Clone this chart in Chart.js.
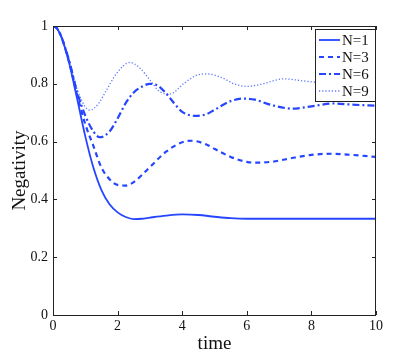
<!DOCTYPE html>
<html>
<head>
<meta charset="utf-8">
<script src="https://cdn.jsdelivr.net/npm/chart.js@4"></script>
<style>
  html, body { margin: 0; padding: 0; background: #fff; }
  #wrap { width: 415px; height: 355px; }
</style>
</head>
<body>
<div id="wrap"><canvas id="chart" width="415" height="355"></canvas></div>
<script>
// 곡선 데이터
const t1 = [0, 0.12, 0.25, 0.5, 0.75, 1, 1.25, 1.5, 1.75, 2, 2.25, 2.5, 2.75, 3, 3.5, 4, 4.5, 5, 5.5, 6, 7, 8, 9, 10];
const n1 = [1, 0.992, 0.965, 0.872, 0.747, 0.618, 0.51, 0.432, 0.383, 0.355, 0.339, 0.332, 0.333, 0.337, 0.344, 0.348, 0.346, 0.34, 0.335, 0.333, 0.333, 0.333, 0.333, 0.333];

const t3 = [0, 0.12, 0.25, 0.5, 0.75, 1, 1.25, 1.5, 1.75, 2, 2.25, 2.5, 3, 3.5, 4, 4.3, 4.75, 5, 5.5, 6, 6.25, 6.75, 7.5, 8, 8.6, 9.25, 10];
const n3 = [1, 0.992, 0.965, 0.875, 0.76, 0.66, 0.585, 0.51, 0.47, 0.45, 0.448, 0.46, 0.512, 0.565, 0.598, 0.603, 0.59, 0.575, 0.547, 0.53, 0.527, 0.53, 0.545, 0.554, 0.558, 0.554, 0.547];

const t6 = [0, 0.12, 0.25, 0.5, 0.75, 1, 1.25, 1.45, 1.75, 2, 2.25, 2.5, 2.75, 3, 3.25, 3.5, 3.75, 4, 4.4, 4.75, 5, 5.5, 5.9, 6.25, 6.75, 7.4, 8, 8.7, 9.25, 10];
const n6 = [1, 0.992, 0.965, 0.88, 0.77, 0.69, 0.635, 0.615, 0.635, 0.68, 0.733, 0.77, 0.79, 0.8, 0.793, 0.767, 0.733, 0.703, 0.689, 0.695, 0.71, 0.74, 0.749, 0.745, 0.727, 0.714, 0.722, 0.732, 0.728, 0.724];

const t9 = [0, 0.12, 0.25, 0.5, 0.75, 1, 1.14, 1.4, 1.66, 1.97, 2.38, 2.7, 3, 3.3, 3.63, 4.04, 4.46, 4.77, 5.25, 5.6, 6, 6.5, 7.13, 7.75, 8.5, 9.25, 10];
const n9 = [1, 0.992, 0.965, 0.88, 0.78, 0.72, 0.709, 0.73, 0.779, 0.836, 0.874, 0.853, 0.813, 0.773, 0.765, 0.8, 0.83, 0.834, 0.82, 0.8, 0.791, 0.8, 0.817, 0.81, 0.8, 0.79, 0.788];

const labels = ['N=1', 'N=3', 'N=6', 'N=9'];
const xTicks = [0, 2, 4, 6, 8, 10];
const yTicks = [0, 0.2, 0.4, 0.6, 0.8, 1];

const blue = '#2545ff';
const serif = '"Liberation Serif", "DejaVu Serif", serif';

function pts(xs, ys) {
  return xs.map((x, i) => ({ x: x, y: ys[i] }));
}

// 안쪽 눈금 + 테두리
const boxTicks = {
  id: 'boxTicks',
  afterDraw(chart) {
    const ctx = chart.ctx;
    const a = chart.chartArea;
    const xs = chart.scales.x, ys = chart.scales.y;
    ctx.save();
    ctx.strokeStyle = '#222';
    ctx.lineWidth = 1;
    ctx.strokeRect(a.left + 0.5, a.top + 0.5, a.right - a.left - 1, a.bottom - a.top);
    ctx.beginPath();
    xTicks.forEach(v => {
      const p = Math.round(xs.getPixelForValue(v)) + 0.5;
      ctx.moveTo(p, a.bottom); ctx.lineTo(p, a.bottom - 4);
      ctx.moveTo(p, a.top); ctx.lineTo(p, a.top + 4);
    });
    yTicks.forEach(v => {
      const p = Math.round(ys.getPixelForValue(v)) + 0.5;
      ctx.moveTo(a.left, p); ctx.lineTo(a.left + 4, p);
      ctx.moveTo(a.right, p); ctx.lineTo(a.right - 4, p);
    });
    ctx.stroke();
    ctx.restore();
  }
};

// 그래프 안 오른쪽 위 범례
const boxLegend = {
  id: 'boxLegend',
  afterDraw(chart) {
    const ctx = chart.ctx;
    const a = chart.chartArea;
    const w = 61, h = 73;
    const x0 = a.right - w, y0 = a.top + 3;
    ctx.save();
    ctx.fillStyle = '#fff';
    ctx.fillRect(x0, y0, w, h);
    ctx.strokeStyle = '#222';
    ctx.lineWidth = 1;
    ctx.strokeRect(x0 + 0.5, y0 + 0.5, w - 1, h - 1);
    ctx.font = '15px ' + serif;
    ctx.textBaseline = 'middle';
    chart.data.datasets.forEach((ds, i) => {
      const yy = y0 + 11 + i * 17;
      ctx.strokeStyle = ds.borderColor;
      ctx.lineWidth = ds.borderWidth;
      ctx.setLineDash(ds.borderDash || []);
      ctx.beginPath();
      ctx.moveTo(x0 + 4, yy);
      ctx.lineTo(x0 + 25, yy);
      ctx.stroke();
      ctx.setLineDash([]);
      ctx.fillStyle = '#111';
      ctx.fillText(ds.label, x0 + 27, yy + 1);
    });
    ctx.restore();
  }
};

const chart = new Chart(document.getElementById('chart'), {
  type: 'line',
  data: {
    datasets: [
      { label: labels[0], data: pts(t1, n1), borderColor: blue, borderWidth: 1.8, borderDash: [] },
      { label: labels[1], data: pts(t3, n3), borderColor: blue, borderWidth: 2.2, borderDash: [5, 4] },
      { label: labels[2], data: pts(t6, n6), borderColor: blue, borderWidth: 2.2, borderDash: [7, 3, 2, 3] },
      { label: labels[3], data: pts(t9, n9), borderColor: 'rgba(37,69,255,0.75)', borderWidth: 1.3, borderDash: [1.2, 2] }
    ]
  },
  options: {
    responsive: false,
    animation: false,
    layout: { padding: { left: 9, top: 26, right: 39, bottom: 0 } },
    elements: {
      point: { radius: 0 },
      line: { cubicInterpolationMode: 'monotone', fill: false }
    },
    plugins: { legend: { display: false }, tooltip: { enabled: false } },
    scales: {
      x: {
        type: 'linear', min: 0, max: 10,
        afterBuildTicks: s => { s.ticks = xTicks.map(v => ({ value: v })); },
        afterFit: s => { s.height = 40; },
        grid: { display: false, drawTicks: false },
        border: { display: false },
        ticks: { color: '#111', font: { family: serif, size: 14 }, padding: 3 },
        title: { display: true, text: 'time', color: '#111', font: { family: serif, size: 19 }, padding: { top: -3, bottom: 0 } }
      },
      y: {
        type: 'linear', min: 0, max: 1,
        afterBuildTicks: s => { s.ticks = yTicks.map(v => ({ value: v })); },
        afterFit: s => { s.width = 44; },
        grid: { display: false, drawTicks: false },
        border: { display: false },
        ticks: { color: '#111', font: { family: serif, size: 14 }, padding: 5, callback: v => String(Math.round(v * 10) / 10) },
        title: { display: true, text: 'Negativity', color: '#111', font: { family: serif, size: 19 }, padding: { top: 0, bottom: 2 } }
      }
    }
  },
  plugins: [boxTicks, boxLegend]
});
</script>
</body>
</html>
